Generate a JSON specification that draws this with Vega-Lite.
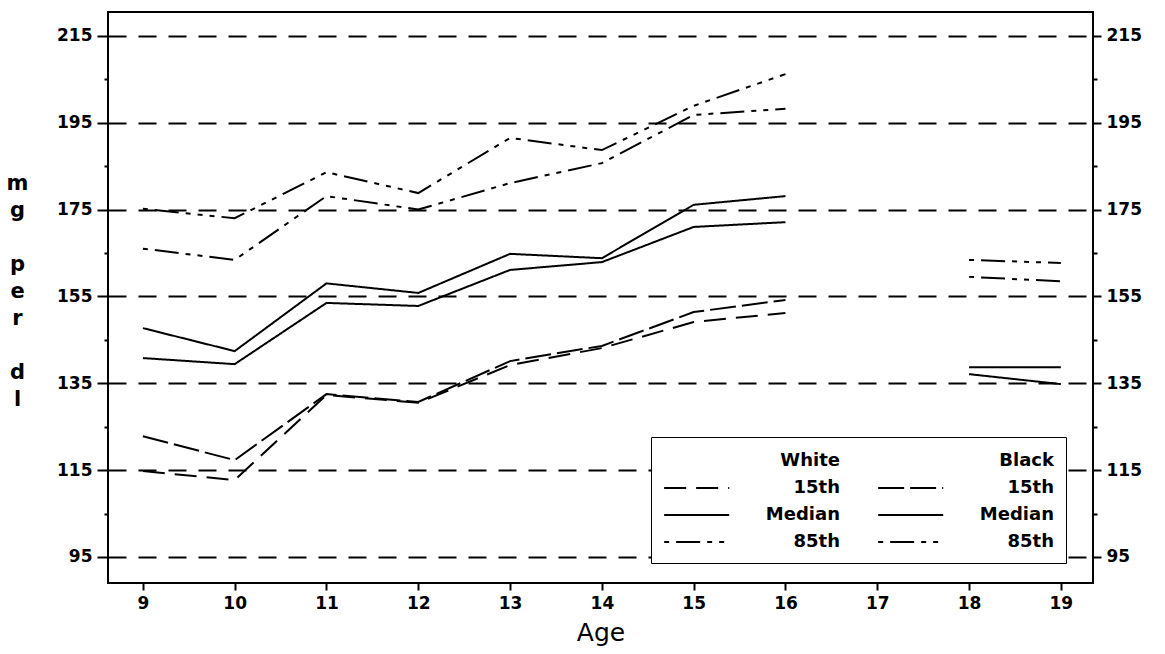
{
  "$schema": "https://vega.github.io/schema/vega-lite/v6.json",
  "width": 985,
  "height": 571,
  "autosize": {"type": "none"},
  "padding": {"left": 108, "top": 12, "right": 72, "bottom": 71},
  "background": "white",
  "config": {"view": {"stroke": "black", "strokeWidth": 2}, "font": "DejaVu Sans"},
  "data": {"values": [
    {"age": 9, "series": "Black 85th", "part": "a", "value": 175.2},
    {"age": 10, "series": "Black 85th", "part": "a", "value": 173},
    {"age": 11, "series": "Black 85th", "part": "a", "value": 183.6},
    {"age": 12, "series": "Black 85th", "part": "a", "value": 178.8},
    {"age": 13, "series": "Black 85th", "part": "a", "value": 191.5},
    {"age": 14, "series": "Black 85th", "part": "a", "value": 188.7},
    {"age": 15, "series": "Black 85th", "part": "a", "value": 198.9},
    {"age": 16, "series": "Black 85th", "part": "a", "value": 206.2},
    {"age": 18, "series": "Black 85th", "part": "b", "value": 163.4},
    {"age": 19, "series": "Black 85th", "part": "b", "value": 162.7},
    {"age": 9, "series": "White 85th", "part": "a", "value": 166},
    {"age": 10, "series": "White 85th", "part": "a", "value": 163.4},
    {"age": 11, "series": "White 85th", "part": "a", "value": 178.1},
    {"age": 12, "series": "White 85th", "part": "a", "value": 175},
    {"age": 13, "series": "White 85th", "part": "a", "value": 181.1},
    {"age": 14, "series": "White 85th", "part": "a", "value": 185.7},
    {"age": 15, "series": "White 85th", "part": "a", "value": 196.8},
    {"age": 16, "series": "White 85th", "part": "a", "value": 198.2},
    {"age": 18, "series": "White 85th", "part": "b", "value": 159.5},
    {"age": 19, "series": "White 85th", "part": "b", "value": 158.5},
    {"age": 9, "series": "Black Median", "part": "a", "value": 147.7},
    {"age": 10, "series": "Black Median", "part": "a", "value": 142.4},
    {"age": 11, "series": "Black Median", "part": "a", "value": 158},
    {"age": 12, "series": "Black Median", "part": "a", "value": 155.8},
    {"age": 13, "series": "Black Median", "part": "a", "value": 164.8},
    {"age": 14, "series": "Black Median", "part": "a", "value": 163.8},
    {"age": 15, "series": "Black Median", "part": "a", "value": 176.1},
    {"age": 16, "series": "Black Median", "part": "a", "value": 178.1},
    {"age": 18, "series": "Black Median", "part": "b", "value": 138.7},
    {"age": 19, "series": "Black Median", "part": "b", "value": 138.7},
    {"age": 9, "series": "White Median", "part": "a", "value": 140.8},
    {"age": 10, "series": "White Median", "part": "a", "value": 139.4},
    {"age": 11, "series": "White Median", "part": "a", "value": 153.5},
    {"age": 12, "series": "White Median", "part": "a", "value": 152.8},
    {"age": 13, "series": "White Median", "part": "a", "value": 161.1},
    {"age": 14, "series": "White Median", "part": "a", "value": 162.9},
    {"age": 15, "series": "White Median", "part": "a", "value": 171},
    {"age": 16, "series": "White Median", "part": "a", "value": 172.1},
    {"age": 18, "series": "White Median", "part": "b", "value": 137.1},
    {"age": 19, "series": "White Median", "part": "b", "value": 134.8},
    {"age": 9, "series": "Black 15th", "part": "a", "value": 122.8},
    {"age": 10, "series": "Black 15th", "part": "a", "value": 117.3},
    {"age": 11, "series": "Black 15th", "part": "a", "value": 132.5},
    {"age": 12, "series": "Black 15th", "part": "a", "value": 130.7},
    {"age": 13, "series": "Black 15th", "part": "a", "value": 140.1},
    {"age": 14, "series": "Black 15th", "part": "a", "value": 143.6},
    {"age": 15, "series": "Black 15th", "part": "a", "value": 151.4},
    {"age": 16, "series": "Black 15th", "part": "a", "value": 154.2},
    {"age": 9, "series": "White 15th", "part": "a", "value": 114.8},
    {"age": 10, "series": "White 15th", "part": "a", "value": 112.7},
    {"age": 11, "series": "White 15th", "part": "a", "value": 132.3},
    {"age": 12, "series": "White 15th", "part": "a", "value": 130.5},
    {"age": 13, "series": "White 15th", "part": "a", "value": 139.2},
    {"age": 14, "series": "White 15th", "part": "a", "value": 143.1},
    {"age": 15, "series": "White 15th", "part": "a", "value": 149.1},
    {"age": 16, "series": "White 15th", "part": "a", "value": 151.2}
  ]},
  "layer": [
    {
      "transform": [{"filter": "indexof(datum.series, 'White') == 0"}],
      "mark": {"type": "line", "color": "black", "strokeWidth": 2},
      "encoding": {
        "x": {"field": "age", "type": "quantitative",
          "scale": {"domain": [8.62, 19.35], "nice": false, "zero": false},
          "axis": {"values": [9,10,11,12,13,14,15,16,17,18,19], "tickSize": 7, "tickWidth": 2, "tickColor": "black",
            "grid": false, "domain": false, "labelFont": "DejaVu Sans", "labelFontSize": 17, "labelFontWeight": "bold",
            "labelColor": "black", "labelPadding": 5, "labelFlush": false,
            "title": "Age", "titleFont": "DejaVu Sans", "titleFontSize": 25, "titleFontWeight": "normal", "titleColor": "black", "titlePadding": 9}},
        "y": {"field": "value", "type": "quantitative",
          "scale": {"domain": [89, 220.5], "nice": false, "zero": false},
          "axis": {"orient": "left", "values": [95,105,115,125,135,145,155,165,175,185,195,205,215],
            "labelExpr": "(datum.value - 95) % 20 == 0 ? datum.label : ''",
            "tickSize": {"condition": {"test": "(datum.value - 95) % 20 == 0", "value": 11}, "value": 4},
            "tickWidth": 2, "tickColor": "black", "domain": false,
            "grid": true, "gridColor": "black", "gridWidth": 2, "gridDash": [18, 12],
            "gridOpacity": {"condition": {"test": "(datum.value - 95) % 20 == 0", "value": 1}, "value": 0},
            "labelFont": "DejaVu Sans", "labelFontSize": 17, "labelFontWeight": "bold", "labelColor": "black", "labelPadding": 5,
            "title": ["m", "g", "\u200b", "p", "e", "r", "\u200b", "d", "l"],
            "titleAngle": 0, "titleX": -91, "titleY": 171, "titleAlign": "center", "titleBaseline": "middle",
            "titleLineHeight": 27, "titleFont": "DejaVu Sans", "titleFontSize": 21, "titleFontWeight": "bold", "titleColor": "black"}},
        "strokeDash": {"field": "series", "type": "nominal",
          "scale": {"domain": ["White", "White 15th", "White Median", "White 85th", "Black", "Black 15th", "Black Median", "Black 85th"],
            "range": [[1, 0], [22, 10], [1, 0], [5, 7, 24, 7, 5, 7], [1, 0], [26, 6], [1, 0], [5, 7, 24, 7, 5, 7, 5, 7]]},
          "legend": {"orient": "none", "legendX": 543, "legendY": 425, "columns": 2, "title": null,
            "symbolType": "M-1,0H5", "symbolSize": 470, "symbolStrokeWidth": 2, "symbolStrokeColor": "black",
            "labelFont": "DejaVu Sans", "labelFontSize": 18, "labelFontWeight": "bold", "labelColor": "black",
            "labelAlign": "right", "labelOffset": 153, "labelLimit": 300,
            "labelExpr": "indexof(datum.label, ' ') > 0 ? substring(datum.label, indexof(datum.label, ' ') + 1) : datum.label",
            "columnPadding": 34, "rowPadding": 6, "padding": 12,
            "strokeColor": "black", "fillColor": "white",
            "encode": {"symbols": {"update": {"opacity": {"signal": "indexof(datum.value, ' ') > 0 ? 1 : 0"}}}}}},
        "detail": {"field": "part"}
      }
    },
    {
      "transform": [{"filter": "indexof(datum.series, 'Black') == 0"}],
      "mark": {"type": "line", "color": "black", "strokeWidth": 2},
      "encoding": {
        "x": {"field": "age", "type": "quantitative",
          "scale": {"domain": [8.62, 19.35], "nice": false, "zero": false},
          "axis": {"values": [9,10,11,12,13,14,15,16,17,18,19], "tickSize": 7, "tickWidth": 2, "tickColor": "black",
            "grid": false, "domain": false, "labelFont": "DejaVu Sans", "labelFontSize": 17, "labelFontWeight": "bold",
            "labelColor": "black", "labelPadding": 5, "labelFlush": false,
            "title": "Age", "titleFont": "DejaVu Sans", "titleFontSize": 25, "titleFontWeight": "normal", "titleColor": "black", "titlePadding": 9}},
        "y": {"field": "value", "type": "quantitative",
          "scale": {"domain": [89, 220.5], "nice": false, "zero": false},
          "axis": {"orient": "right", "values": [95,105,115,125,135,145,155,165,175,185,195,205,215],
            "labelExpr": "(datum.value - 95) % 20 == 0 ? datum.label : ''",
            "tickSize": {"condition": {"test": "(datum.value - 95) % 20 == 0", "value": 8}, "value": 4},
            "tickWidth": 2, "tickColor": "black", "domain": false, "grid": false,
            "labelFont": "DejaVu Sans", "labelFontSize": 17, "labelFontWeight": "bold", "labelColor": "black", "labelPadding": 5,
            "title": null}},
        "strokeDash": {"field": "series", "type": "nominal",
          "scale": {"domain": ["White", "White 15th", "White Median", "White 85th", "Black", "Black 15th", "Black Median", "Black 85th"],
            "range": [[1, 0], [22, 10], [1, 0], [5, 7, 24, 7, 5, 7], [1, 0], [26, 6], [1, 0], [5, 7, 24, 7, 5, 7, 5, 7]]}},
        "detail": {"field": "part"}
      }
    }
  ],
  "resolve": {"axis": {"y": "independent"}}
}
